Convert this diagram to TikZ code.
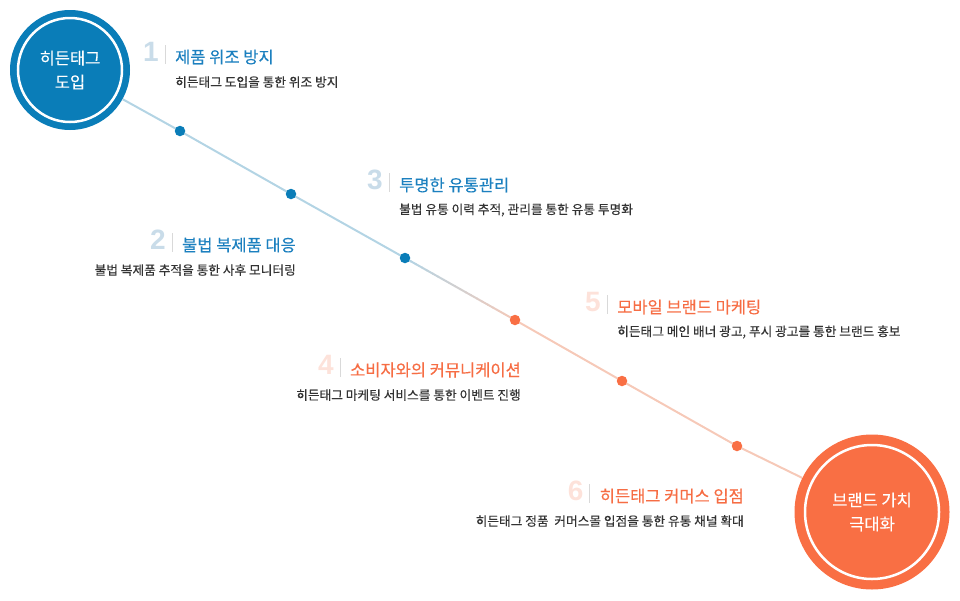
\documentclass[tikz,border=0pt]{standalone}
\usepackage{fontspec}
\setmainfont[FakeBold=0.3]{Noto Sans CJK KR}
\newfontfamily\digitfont{Liberation Sans}
\usetikzlibrary{calc}
\definecolor{hubblue}{HTML}{0A7DB8}
\definecolor{huborange}{HTML}{F96F44}
\definecolor{ttlblue}{HTML}{1C80BF}
\definecolor{ttlorange}{HTML}{F66D44}
\definecolor{numblue}{HTML}{C9DCE9}
\definecolor{numorange}{HTML}{FDE2DA}
\definecolor{lineblue}{HTML}{B3D4E4}
\definecolor{linepeach}{HTML}{F6C9B8}
\definecolor{subgray}{HTML}{333333}
\begin{document}
\begin{tikzpicture}[x=1pt,y=-1pt,
  hub/.style={circle,minimum size=#1,inner sep=0pt,text=white,align=center,
    font=\fontsize{16.5}{24}\selectfont},
  ring/.style={draw=white,line width=2.5pt},
  bdot/.style={circle,fill=hubblue,minimum size=10.5pt,inner sep=0pt},
  odot/.style={circle,fill=huborange,minimum size=10.5pt,inner sep=0pt},
  ttl/.style={inner sep=0pt,font=\fontsize{16.5}{20}\selectfont},
  sub/.style={inner sep=0pt,text=subgray,font=\fontsize{12.7}{15}\selectfont},
  num/.style={inner sep=0pt,anchor=east,font=\digitfont\bfseries\fontsize{28}{28}\selectfont},
  sep/.style={draw=black!15,line width=0.8pt}]
\useasboundingbox (0,0) rectangle (960,600);

% the two hubs
\node[hub=120pt,fill=hubblue] (hid) at (70,70) {히든태그\\도입};
\draw[ring] (hid.center) circle[radius=52pt];
\node[hub=155pt,fill=huborange] (brand) at (872,512) {브랜드 가치\\극대화};
\draw[ring] (brand.center) circle[radius=67pt];

% the line with its six stops
\coordinate (p1) at (180,131);
\coordinate (p2) at (291,194);
\coordinate (p3) at (405,258);
\coordinate (p4) at (515,320);
\coordinate (p5) at (622,381);
\coordinate (p6) at (737,446);
\draw[lineblue,line width=2pt] (hid) -- (p1) -- (p2) -- (p3);
\foreach \i in {0,...,19}{
  \pgfmathtruncatemacro\m{100-5*\i}
  \draw[lineblue!\m!linepeach,line width=2pt] ($(p3)!\i/20!(p4)$) -- ($(p3)!\i/20+0.055!(p4)$);
}
\draw[linepeach,line width=2pt] (p4) -- (p5) -- (p6) -- (brand);
\foreach \i in {1,2,3} \node[bdot] (d\i) at (p\i) {};
\foreach \i in {4,5,6} \node[odot] (d\i) at (p\i) {};

% 1
\node[ttl,text=ttlblue,anchor=west] (t1) at (175,57) {제품 위조 방지};
\node[sub,anchor=west] (s1) at ([yshift=-25pt]t1.west) {히든태그 도입을 통한 위조 방지};
\draw[sep] ([xshift=-10pt,yshift=12pt]t1.west) -- ++(0,19);
\node[num,text=numblue] (n1) at ([xshift=-16pt,yshift=5pt]t1.west) {1};
% 2
\node[ttl,text=ttlblue,anchor=east] (t2) at (296,245) {불법 복제품 대응};
\node[sub,anchor=east] (s2) at ([yshift=-25pt]t2.east) {불법 복제품 추적을 통한 사후 모니터링};
\draw[sep] ([xshift=-10pt,yshift=12pt]t2.west) -- ++(0,19);
\node[num,text=numblue] (n2) at ([xshift=-16pt,yshift=5pt]t2.west) {2};
% 3
\node[ttl,text=ttlblue,anchor=west] (t3) at (399,185) {투명한 유통관리};
\node[sub,anchor=west] (s3) at ([yshift=-25pt]t3.west) {불법 유통 이력 추적, 관리를 통한 유통 투명화};
\draw[sep] ([xshift=-10pt,yshift=12pt]t3.west) -- ++(0,19);
\node[num,text=numblue] (n3) at ([xshift=-16pt,yshift=5pt]t3.west) {3};
% 4
\node[ttl,text=ttlorange,anchor=east] (t4) at (521,370) {소비자와의 커뮤니케이션};
\node[sub,anchor=east] (s4) at ([yshift=-25pt]t4.east) {히든태그 마케팅 서비스를 통한 이벤트 진행};
\draw[sep] ([xshift=-10pt,yshift=12pt]t4.west) -- ++(0,19);
\node[num,text=numorange] (n4) at ([xshift=-16pt,yshift=5pt]t4.west) {4};
% 5
\node[ttl,text=ttlorange,anchor=west] (t5) at (617,307) {모바일 브랜드 마케팅};
\node[sub,anchor=west] (s5) at ([yshift=-25pt]t5.west) {히든태그 메인 배너 광고, 푸시 광고를 통한 브랜드 홍보};
\draw[sep] ([xshift=-10pt,yshift=12pt]t5.west) -- ++(0,19);
\node[num,text=numorange] (n5) at ([xshift=-16pt,yshift=5pt]t5.west) {5};
% 6
\node[ttl,text=ttlorange,anchor=east] (t6) at (744,496) {히든태그 커머스 입점};
\node[sub,anchor=east] (s6) at ([yshift=-25pt]t6.east) {히든태그 정품 \ 커머스몰 입점을 통한 유통 채널 확대};
\draw[sep] ([xshift=-10pt,yshift=12pt]t6.west) -- ++(0,19);
\node[num,text=numorange] (n6) at ([xshift=-16pt,yshift=5pt]t6.west) {6};
\end{tikzpicture}
\end{document}
